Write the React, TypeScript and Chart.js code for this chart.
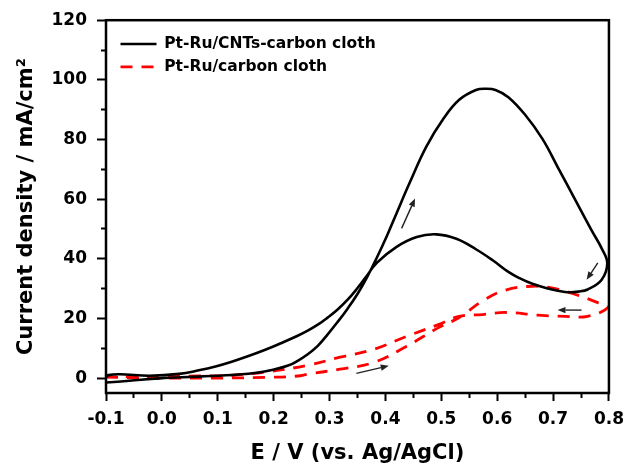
import React, { useEffect, useRef } from 'react';
import { Chart, registerables } from 'chart.js';

Chart.register(...registerables);

// Pt-Ru/CNTs-carbon cloth (forward scan then backward scan)
const cntE = [
  -0.1, -0.058, -0.004, 0.066, 0.137, 0.173, 0.199, 0.226, 0.243, 0.261, 0.279, 0.296,
  0.314, 0.332, 0.35, 0.367, 0.385, 0.403, 0.42, 0.443, 0.473, 0.504, 0.532, 0.562,
  0.58, 0.597, 0.62, 0.65, 0.681, 0.709, 0.739, 0.769, 0.787, 0.797,
  0.787, 0.762, 0.745, 0.727, 0.709, 0.691, 0.663, 0.64, 0.62, 0.592, 0.562, 0.527,
  0.491, 0.456, 0.42, 0.385, 0.364, 0.348, 0.332, 0.314, 0.296, 0.279, 0.261, 0.243,
  0.213, 0.185, 0.155, 0.125, 0.096, 0.066, 0.031, -0.022, -0.075, -0.096, -0.1,
];
const cntJ = [
  -1.5, -0.9, -0.1, 0.5, 1.2, 1.9, 2.8, 4.2, 5.8, 8.0, 10.8, 14.5,
  18.7, 23.2, 28.2, 33.8, 40.5, 47.8, 55.3, 65.3, 77.5, 87.0, 93.3, 96.6,
  97.0, 96.6, 94.2, 88.3, 80.2, 70.5, 60.0, 49.5, 43.5, 38.5,
  33.0, 29.7, 29.0, 28.8, 29.3, 30.0, 31.6, 33.5, 35.6, 39.5, 43.2, 46.7,
  48.2, 47.3, 44.0, 38.7, 33.6, 29.7, 26.2, 22.9, 20.2, 17.9, 15.9, 14.2,
  11.7, 9.5, 7.4, 5.5, 3.9, 2.6, 1.4, 0.8, 1.3, 1.0, 0.3,
];

// Pt-Ru/carbon cloth (forward scan then backward scan)
const clothE = [
  -0.1, -0.05, 0.0, 0.1, 0.2, 0.243, 0.261, 0.319, 0.38, 0.438, 0.496, 0.532,
  0.574, 0.615, 0.663, 0.704, 0.744, 0.78, 0.798,
  0.762, 0.721, 0.673, 0.615, 0.574, 0.532, 0.496, 0.438, 0.38, 0.319, 0.261,
  0.185, 0.125, 0.066, 0.0, -0.05, -0.1,
];
const clothJ = [
  0.3, 0.1, 0.0, 0.0, 0.3, 0.7, 1.3, 3, 5.3, 10.7, 17, 20.3,
  25.9, 29.5, 30.8, 30, 27.8, 25.3, 23.7,
  20.7, 20.7, 21.1, 22, 21.3, 20.7, 18, 14, 9.7, 7, 4.3,
  2, 1, 0.7, 0.5, 0.5, 0.3,
];

// scan-direction arrows (data coordinates)
const arrowStartE = [0.429, 0.78, 0.751, 0.348];
const arrowStartJ = [50.2, 38.6, 22.8, 1.6];
const arrowEndE = [0.453, 0.76, 0.708, 0.406];
const arrowEndJ = [60.2, 33, 22.8, 4.1];

const xMajorTicks = [-0.1, 0.0, 0.1, 0.2, 0.3, 0.4, 0.5, 0.6, 0.7, 0.8];
const xMinorTicks = [-0.05, 0.05, 0.15, 0.25, 0.35, 0.45, 0.55, 0.65, 0.75];
const yMajorTicks = [0, 20, 40, 60, 80, 100, 120];
const yMinorTicks = [10, 30, 50, 70, 90, 110];

const seriesNames = ['Pt-Ru/CNTs-carbon cloth', 'Pt-Ru/carbon cloth'];

const FONT = "'DejaVu Sans', 'Liberation Sans', Arial, sans-serif";

const framePlugin = {
  id: 'frame',
  afterDraw(chart: any) {
    const { ctx, chartArea: a } = chart;
    ctx.save();
    ctx.strokeStyle = '#000';
    ctx.lineWidth = 2.5;
    ctx.strokeRect(a.left, a.top, a.right - a.left, a.bottom - a.top);
    ctx.restore();
  },
};

const arrowPlugin = {
  id: 'arrows',
  afterDatasetsDraw(chart: any) {
    const { ctx } = chart;
    const xs = chart.scales.x;
    const ys = chart.scales.y;
    ctx.save();
    ctx.strokeStyle = '#222';
    ctx.fillStyle = '#222';
    ctx.lineWidth = 1.4;
    for (let i = 0; i < arrowStartE.length; i++) {
      const x0 = xs.getPixelForValue(arrowStartE[i]);
      const y0 = ys.getPixelForValue(arrowStartJ[i]);
      const x1 = xs.getPixelForValue(arrowEndE[i]);
      const y1 = ys.getPixelForValue(arrowEndJ[i]);
      const ang = Math.atan2(y1 - y0, x1 - x0);
      const hl = 8;
      const hw = 3.2;
      const bx = x1 - hl * Math.cos(ang);
      const by = y1 - hl * Math.sin(ang);
      ctx.beginPath();
      ctx.moveTo(x0, y0);
      ctx.lineTo(bx, by);
      ctx.stroke();
      ctx.beginPath();
      ctx.moveTo(x1, y1);
      ctx.lineTo(bx + hw * Math.sin(ang), by - hw * Math.cos(ang));
      ctx.lineTo(bx - hw * Math.sin(ang), by + hw * Math.cos(ang));
      ctx.closePath();
      ctx.fill();
    }
    ctx.restore();
  },
};

const legendInsetPlugin = {
  id: 'legendInset',
  afterLayout(chart: any) {
    const l = chart.legend;
    if (!l) return;
    const a = chart.chartArea;
    l.left = a.left + 7;
    l.top = a.top + 8.5;
    l.right = l.left + l.width;
    l.bottom = l.top + l.height;
  },
};

export default function App() {
  const ref = useRef<HTMLCanvasElement | null>(null);

  useEffect(() => {
    if (!ref.current) return;
    const tickFont = { family: FONT, size: 17, weight: 'bold' as const };
    const titleFont = { family: FONT, size: 21, weight: 'bold' as const };
    const chart = new Chart(ref.current, {
      type: 'line',
      data: {
        datasets: [
          {
            label: seriesNames[0],
            data: cntE.map((e, i) => ({ x: e, y: cntJ[i] })),
            borderColor: '#000',
            backgroundColor: '#000',
            borderWidth: 2.6,
            pointRadius: 0,
            tension: 0.4,
            fill: false,
          },
          {
            label: seriesNames[1],
            data: clothE.map((e, i) => ({ x: e, y: clothJ[i] })),
            borderColor: '#ff0000',
            backgroundColor: '#ff0000',
            borderWidth: 2.8,
            borderDash: [12, 9],
            pointRadius: 0,
            tension: 0.4,
            fill: false,
          },
        ],
      },
      options: {
        responsive: false,
        animation: false,
        layout: { padding: { left: 0, right: 16, top: 19, bottom: 0 } },
        scales: {
          x: {
            type: 'linear',
            position: 'bottom',
            weight: 1,
            min: -0.1,
            max: 0.8,
            afterBuildTicks: (s: any) => {
              s.ticks = xMajorTicks.map((value) => ({ value }));
            },
            afterFit: (s: any) => {
              s.height = 71;
            },
            ticks: {
              callback: (v: any) => Number(v).toFixed(1),
              font: tickFont,
              color: '#000',
              padding: 8,
              maxRotation: 0,
              autoSkip: false,
            },
            grid: { drawOnChartArea: false, tickLength: 8, tickWidth: 2, tickColor: '#000' },
            border: { display: false },
            title: {
              display: true,
              text: 'E / V (vs. Ag/AgCl)',
              font: { ...titleFont, lineHeight: 1 },
              color: '#000',
              padding: 0,
            },
          },
          xMinor: {
            type: 'linear',
            position: 'bottom',
            weight: 0,
            min: -0.1,
            max: 0.8,
            afterBuildTicks: (s: any) => {
              s.ticks = xMinorTicks.map((value) => ({ value }));
            },
            afterFit: (s: any) => {
              s.height = 0;
            },
            ticks: { display: false },
            grid: { drawOnChartArea: false, tickLength: 5, tickWidth: 2, tickColor: '#000' },
            border: { display: false },
          },
          y: {
            type: 'linear',
            position: 'left',
            weight: 1,
            min: -5,
            max: 120,
            afterBuildTicks: (s: any) => {
              s.ticks = yMajorTicks.map((value) => ({ value }));
            },
            afterFit: (s: any) => {
              s.width = 106;
            },
            ticks: {
              font: tickFont,
              color: '#000',
              padding: 10,
              autoSkip: false,
            },
            grid: { drawOnChartArea: false, tickLength: 9, tickWidth: 2, tickColor: '#000' },
            border: { display: false },
            title: {
              display: true,
              text: 'Current density / mA/cm²',
              font: titleFont,
              color: '#000',
              padding: { top: 14, bottom: 0 },
            },
          },
          yMinor: {
            type: 'linear',
            position: 'left',
            weight: 0,
            min: -5,
            max: 120,
            afterBuildTicks: (s: any) => {
              s.ticks = yMinorTicks.map((value) => ({ value }));
            },
            afterFit: (s: any) => {
              s.width = 0;
            },
            ticks: { display: false },
            grid: { drawOnChartArea: false, tickLength: 5, tickWidth: 2, tickColor: '#000' },
            border: { display: false },
          },
        },
        plugins: {
          legend: {
            position: 'chartArea',
            align: 'start',
            labels: {
              usePointStyle: true,
              pointStyle: 'line',
              pointStyleWidth: 36,
              font: { family: FONT, size: 15.5, weight: 'bold' },
              color: '#000',
              padding: 7.5,
              generateLabels: (c: any) => {
                const items = (Chart as any).defaults.plugins.legend.labels.generateLabels(c);
                items.forEach((it: any) => {
                  const ds: any = c.data.datasets[it.datasetIndex];
                  it.lineDash = ds.borderDash || [];
                  it.lineWidth = ds.borderWidth;
                  it.strokeStyle = ds.borderColor;
                  it.fillStyle = ds.borderColor;
                  it.pointStyle = 'line';
                });
                return items;
              },
            },
          },
          tooltip: { enabled: false },
        },
      } as any,
      plugins: [framePlugin, arrowPlugin, legendInsetPlugin],
    });
    return () => chart.destroy();
  }, []);

  return (
    <div style={{ position: 'fixed', left: 0, top: 0, width: 632, height: 464, background: '#fff' }}>
      <canvas ref={ref} width={632} height={464} style={{ display: 'block', width: 632, height: 464 }} />
    </div>
  );
}
